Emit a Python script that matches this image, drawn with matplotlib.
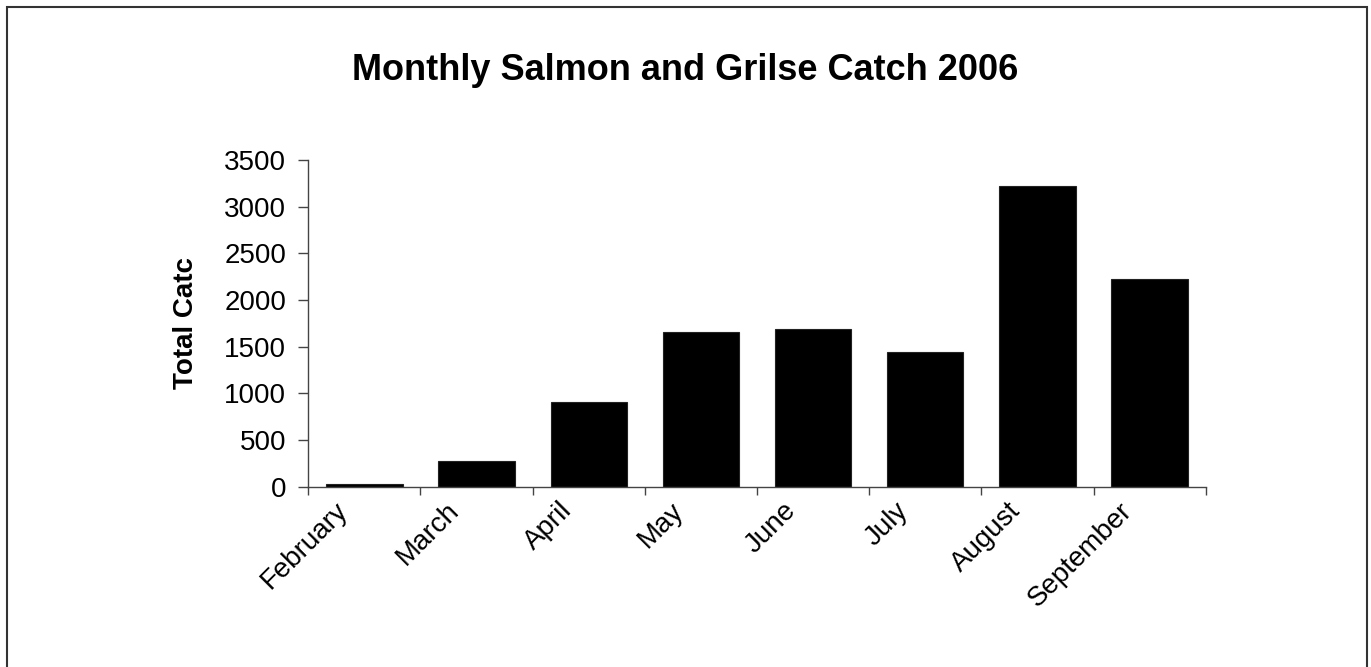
import matplotlib
matplotlib.use('Agg')
import matplotlib.pyplot as plt
import matplotlib.transforms as mtransforms
from matplotlib.patches import Rectangle
import numpy as np

plt.rcParams['font.family'] = ['Liberation Sans', 'DejaVu Sans']

months = ['February', 'March', 'April', 'May', 'June', 'July', 'August', 'September']
catch = [30, 275, 905, 1660, 1685, 1445, 3220, 2225]
yticks = [0, 500, 1000, 1500, 2000, 2500, 3000, 3500]

W, H = 1371, 667
fig = plt.figure(figsize=(W / 100, H / 100), dpi=100)
ax = fig.add_axes([308.3 / W, 1 - 486.7 / H, 897.4 / W, 326.7 / H])

x = np.arange(len(months))
ax.bar(x, catch, width=0.68, color='black', edgecolor='#222222', linewidth=0.8)

ax.set_xlim(-0.5, len(months) - 0.5)
ax.set_ylim(0, 3500)
ax.set_yticks(yticks)
ax.set_yticklabels([str(v) for v in yticks], fontsize=20)

# labels at category centres, tick marks at category boundaries
ax.set_xticks(x)
ax.set_xticklabels(months, fontsize=20, rotation=45, ha='right', va='center',
                   rotation_mode='anchor')
ax.tick_params(axis='x', which='major', length=0, pad=14.5)
ax.set_xticks(np.arange(len(months) + 1) - 0.5, minor=True)
ax.tick_params(axis='x', which='minor', length=6, width=1, color='#444444')
ax.tick_params(axis='y', length=7, width=1, color='#444444', pad=9)
shift = mtransforms.ScaledTranslation(-21 / 100, 0, fig.dpi_scale_trans)
for lab in ax.get_xticklabels():
    lab.set_transform(lab.get_transform() + shift)

for s in ['top', 'right']:
    ax.spines[s].set_visible(False)
for s in ['left', 'bottom']:
    ax.spines[s].set_color('#444444')
    ax.spines[s].set_linewidth(1)

ax.set_ylabel('Total Catc', fontsize=20, fontweight='bold', labelpad=18)

fig.text(0.5, 1 - 80.5 / H, 'Monthly Salmon and Grilse Catch 2006',
         ha='center', va='baseline', fontsize=26, fontweight='bold')

# chart-area border (cut off at the bottom in the original)
fig.patches.append(Rectangle((7 / W, -0.05), 1360 / W, 1.05 - 7 / H,
                             transform=fig.transFigure, fill=False,
                             edgecolor='#333333', linewidth=1.5))

fig.savefig('out.png', dpi=100)
